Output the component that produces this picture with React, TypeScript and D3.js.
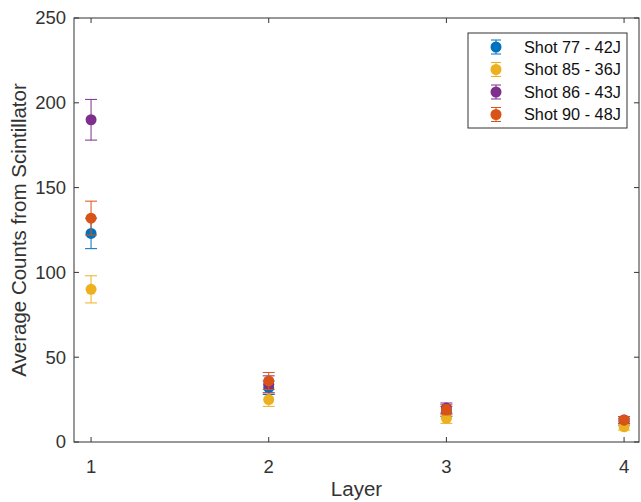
import React from "react";
import * as d3 from "d3";

// layers on the x axis
const layers = [1, 2, 3, 4];

// series names and colours (matlab default order)
const seriesNames = ["Shot 77 - 42J", "Shot 85 - 36J", "Shot 86 - 43J", "Shot 90 - 48J"];
const seriesColors = ["#0072BD", "#EDB120", "#7E2F8E", "#D95319"];

// mean counts per layer, one array per shot
const shot77 = [123, 32, 18, 12];
const shot85 = [90, 25, 14, 9];
const shot86 = [190, 34, 20, 13];
const shot90 = [132, 36, 19, 13];

// error bar half widths
const err77 = [9, 4, 3, 2];
const err85 = [8, 4, 3, 2];
const err86 = [12, 5, 3, 2];
const err90 = [10, 5, 3, 2];

const yTicks = [0, 50, 100, 150, 200, 250];

const values = [shot77, shot85, shot86, shot90];
const errors = [err77, err85, err86, err90];

const width = 641;
const height = 502;
const axisColor = "#333";
const font = "'Liberation Sans', Arial, sans-serif";

export default function App() {
  const x = d3.scaleLinear().domain([0.904, 4.084]).range([74, 639]);
  const y = d3.scaleLinear().domain([0, 250]).range([442, 18]);
  const [x0, x1] = x.range();
  const [yb, yt] = y.range();
  const tick = 5;
  const cap = 6;

  const legend = { x: 468, y: 33, w: 159, h: 95, rowH: 22.5 };

  return (
    <svg
      width={width}
      height={height}
      style={{ position: "absolute", left: 0, top: 0, background: "#fff" }}
      fontFamily={font}
    >
      {/* box */}
      <rect x={x0} y={yt} width={x1 - x0} height={yb - yt} fill="none" stroke={axisColor} strokeWidth={1} />

      {/* y ticks */}
      {yTicks.map((t) => (
        <g key={"y" + t}>
          <line x1={x0} x2={x0 + tick} y1={y(t)} y2={y(t)} stroke={axisColor} />
          <line x1={x1} x2={x1 - tick} y1={y(t)} y2={y(t)} stroke={axisColor} />
          <text x={x0 - 8} y={y(t)} dy="0.35em" textAnchor="end" fontSize={18.5} fill={axisColor}>
            {t}
          </text>
        </g>
      ))}

      {/* x ticks */}
      {layers.map((l) => (
        <g key={"x" + l}>
          <line x1={x(l)} x2={x(l)} y1={yb} y2={yb - tick} stroke={axisColor} />
          <line x1={x(l)} x2={x(l)} y1={yt} y2={yt + tick} stroke={axisColor} />
          <text x={x(l)} y={yb + 31} textAnchor="middle" fontSize={18.5} fill={axisColor}>
            {l}
          </text>
        </g>
      ))}

      <text x={(x0 + x1) / 2} y={496} textAnchor="middle" fontSize={20.5} fill={axisColor}>
        Layer
      </text>
      <text
        transform={`translate(26,${(yt + yb) / 2}) rotate(-90)`}
        textAnchor="middle"
        fontSize={20.5}
        fill={axisColor}
      >
        Average Counts from Scintillator
      </text>

      {/* error bars and points */}
      {values.map((vals, si) => (
        <g key={"s" + si}>
          {vals.map((v, i) => {
            const cx = x(layers[i]);
            const e = errors[si][i];
            return (
              <g key={i}>
                <line x1={cx} x2={cx} y1={y(v - e)} y2={y(v + e)} stroke={seriesColors[si]} strokeWidth={1} />
                <line x1={cx - cap} x2={cx + cap} y1={y(v - e)} y2={y(v - e)} stroke={seriesColors[si]} />
                <line x1={cx - cap} x2={cx + cap} y1={y(v + e)} y2={y(v + e)} stroke={seriesColors[si]} />
                <circle cx={cx} cy={y(v)} r={5.5} fill={seriesColors[si]} />
              </g>
            );
          })}
        </g>
      ))}

      {/* legend */}
      <rect x={legend.x} y={legend.y} width={legend.w} height={legend.h} fill="#fff" stroke={axisColor} />
      {seriesNames.map((name, i) => {
        const cy = legend.y + 14 + i * legend.rowH;
        const mx = legend.x + 28;
        return (
          <g key={name}>
            <line x1={mx} x2={mx} y1={cy - 7} y2={cy + 7} stroke={seriesColors[i]} />
            <line x1={mx - 5} x2={mx + 5} y1={cy - 7} y2={cy - 7} stroke={seriesColors[i]} />
            <line x1={mx - 5} x2={mx + 5} y1={cy + 7} y2={cy + 7} stroke={seriesColors[i]} />
            <circle cx={mx} cy={cy} r={5.5} fill={seriesColors[i]} />
            <text x={legend.x + 56} y={cy} dy="0.35em" fontSize={16.3} fill="#111">
              {name}
            </text>
          </g>
        );
      })}
    </svg>
  );
}
